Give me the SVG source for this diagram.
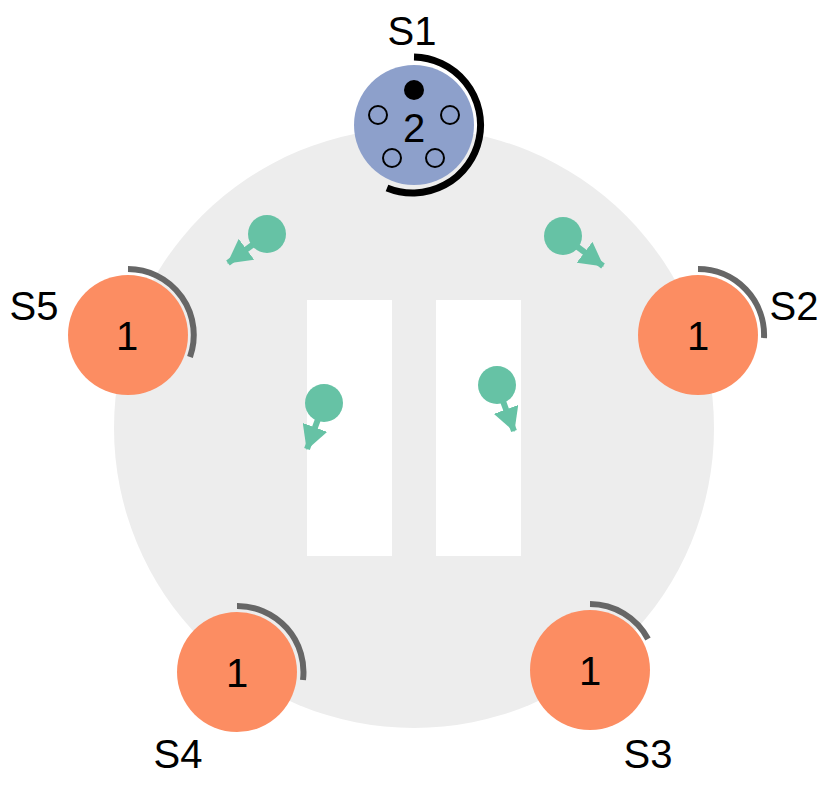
<svg xmlns="http://www.w3.org/2000/svg" width="829" height="787" viewBox="0 0 829 787">
<style>
text{font-family:"Liberation Sans",Arial,sans-serif;font-size:40px;fill:#000;text-anchor:middle}
.o{fill:#FC8D62}.arcg{fill:none;stroke:#666;stroke-width:6}
.g{fill:#66C2A5}.ln{stroke:#66C2A5;stroke-width:6}
.h{fill:none;stroke:#000;stroke-width:2}
</style>
<defs>
<marker id="ah" markerUnits="userSpaceOnUse" markerWidth="24" markerHeight="26" viewBox="0 0 24 26" refX="23" refY="13" orient="auto">
<path d="M0,0 L24,13 L0,26 Z" fill="#66C2A5"/>
</marker>
</defs>
<circle cx="414" cy="428" r="300" fill="#EDEDED"/>
<rect x="307" y="300" width="85" height="256" fill="#fff"/>
<rect x="436" y="300" width="85" height="256" fill="#fff"/>
<g id="S1">
<circle cx="414" cy="125" r="60" fill="#8DA0CB"/>
<path d="M414,57 A68,68 0 1 1 387,188" fill="none" stroke="#000" stroke-width="7"/>
<circle cx="414" cy="90" r="10" fill="#000"/>
<circle class="h" cx="378" cy="115" r="9"/><circle class="h" cx="450" cy="115" r="9"/>
<circle class="h" cx="392" cy="158" r="9"/><circle class="h" cx="435" cy="158" r="9"/>
<text x="414" y="142">2</text>
<text x="412" y="45">S1</text>
</g>
<g id="S5">
<circle class="o" cx="128" cy="335" r="60"/>
<path class="arcg" d="M128,269 A66,66 0 0 1 190,357"/>
<text x="127" y="350">1</text>
<text x="34" y="320">S5</text>
</g>
<g id="S2">
<circle class="o" cx="698" cy="335" r="60"/>
<path class="arcg" d="M698,269 A66,66 0 0 1 764,338"/>
<text x="698" y="350">1</text>
<text x="794" y="320">S2</text>
</g>
<g id="S4">
<circle class="o" cx="237" cy="672" r="60"/>
<path class="arcg" d="M237,606 A66,66 0 0 1 303,680"/>
<text x="237" y="687">1</text>
<text x="178" y="768">S4</text>
</g>
<g id="S3">
<circle class="o" cx="590" cy="670" r="60"/>
<path class="arcg" d="M590,604 A66,66 0 0 1 648,639"/>
<text x="590" y="685">1</text>
<text x="648" y="768">S3</text>
</g>
<g id="connectors">
<line class="ln" x1="267" y1="234" x2="228" y2="263" marker-end="url(#ah)"/>
<circle class="g" cx="267" cy="234" r="19"/>
<line class="ln" x1="563" y1="236" x2="603" y2="266" marker-end="url(#ah)"/>
<circle class="g" cx="563" cy="236" r="19"/>
<line class="ln" x1="324" y1="403" x2="307" y2="449" marker-end="url(#ah)"/>
<circle class="g" cx="324" cy="403" r="19"/>
<line class="ln" x1="497" y1="385" x2="514" y2="431" marker-end="url(#ah)"/>
<circle class="g" cx="497" cy="385" r="19"/>
</g>
</svg>
